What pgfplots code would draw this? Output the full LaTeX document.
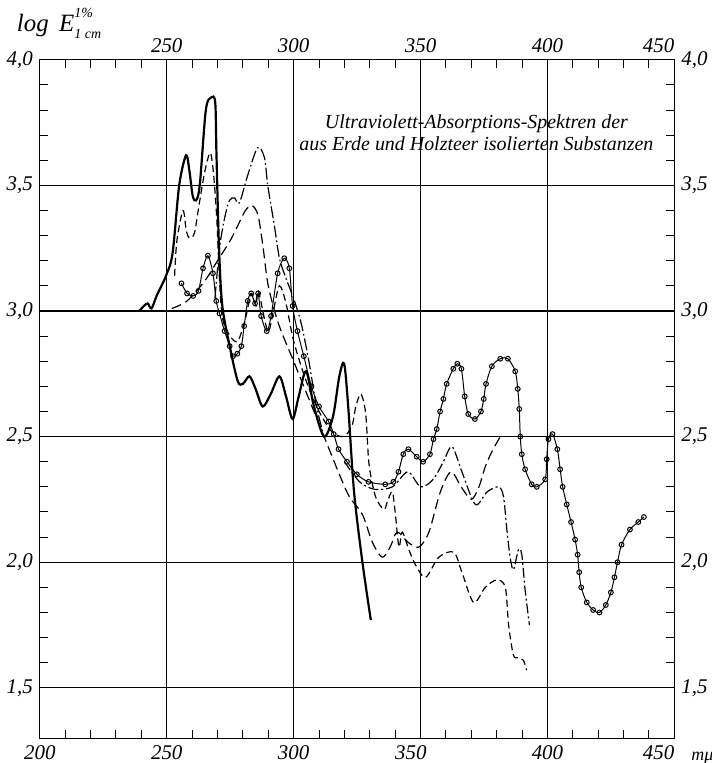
\documentclass[border=0pt]{standalone}
\usepackage{fontspec}
\setmainfont{Liberation Serif}
\usepackage{pgfplots}
\pgfplotsset{compat=1.18}

\pgfplotsset{
  common/.style={
    scale only axis, width=318.5pt, height=340.5pt,
    xmin=200, xmax=450, ymin=1.3, ymax=4.0,
    tick align=inside,
    major tick length=5pt, minor tick length=4pt,
    tick style={black, line width=0.5pt},
    ticklabel style={font=\fontsize{10.5}{11}\selectfont\itshape},
    /pgf/number format/assume math mode=true,
    yticklabel style={/pgf/number format/.cd, fixed, fixed zerofill, precision=1, use comma},
    axis line style={line width=0.6pt},
  },
}

\begin{document}
\begin{tikzpicture}
\begin{axis}[common, name=main,
  xtick={200,250,...,450}, ytick={1.5,2.0,...,4.0},
  xticklabels={200,250,300,\llap{350\hspace{-3pt}},400,\llap{450}},
  minor x tick num=4, minor y tick num=4,
  grid=major, major grid style={black, line width=0.6pt},
]
% A: heavy solid
\addplot[black, line width=1.1pt, smooth, tension=0.5] coordinates {
 (239.2,3.00) (241,3.02) (242.5,3.03) (244,3.01) (246,3.06) (249.7,3.14) (252.3,3.23)
 (254.9,3.50) (257.6,3.62) (258.9,3.56) (260.2,3.46) (261.5,3.44) (263,3.50)
 (265.4,3.80) (267.5,3.85) (269.1,3.83) (269.6,3.62) (270.6,3.25) (271.9,3.02)
 (275,2.85) (278,2.72) (280,2.71) (282.6,2.74) (285,2.69) (287.8,2.62) (291,2.67)
 (294.4,2.74) (297,2.66) (299.6,2.57) (302,2.66) (304.9,2.76) (308,2.62)
 (312,2.50) (315.5,2.58) (318,2.74) (319.9,2.79) (321.5,2.62) (323.8,2.28)
 (327.1,2.00) (330.4,1.77)
};
% B: dashed, from 253 down to 392
\addplot[black, line width=0.6pt, smooth, tension=0.5, dash pattern=on 3.5pt off 2pt] coordinates {
 (253.1,3.14) (254,3.28) (256.4,3.40) (257.7,3.32) (259,3.29) (260.9,3.31)
 (262.7,3.42) (264.9,3.55) (267.1,3.63) (268.4,3.55) (269.7,3.37) (270.8,3.12)
 (272,2.97) (275,2.90) (278,2.88) (281,2.97) (283.3,3.07) (285.2,3.02) (286.1,3.08)
 (289.8,2.92) (292,3.00) (294.4,3.10) (297,3.03) (300,2.88) (305,2.72) (310,2.60)
 (315,2.52) (319,2.50) (321,2.51)
 (323.2,2.55) (324.5,2.62) (326.5,2.67) (328.4,2.59) (329.7,2.39)
 (332.3,2.26) (335.6,2.21) (336.9,2.24) (338.9,2.28) (340.2,2.18) (341.5,2.06)
 (342.8,2.12) (345.4,2.05) (348,1.99) (352,1.94) (357.2,2.02) (363.1,2.04)
 (366.3,1.96) (370.9,1.84) (375.5,1.90) (380.1,1.93) (383.4,1.90) (384.7,1.75)
 (386.6,1.63) (388.5,1.62) (390.5,1.61) (391.8,1.57)
};
% C: dash-dot, peak 3.65
\addplot[black, line width=0.6pt, smooth, tension=0.5, dash pattern=on 6pt off 1.5pt on 0.8pt off 1.5pt] coordinates {
 (269,3.05) (270.8,3.25) (272.8,3.37) (274.7,3.44) (276.7,3.45) (278.6,3.43)
 (281.9,3.54) (285.8,3.65) (288.5,3.61) (289.8,3.50) (292.4,3.34) (294.4,3.21)
 (297,3.13) (300,3.05) (303,2.95) (306,2.80) (309,2.62) (312,2.50)
};
% D: long dashes
\addplot[black, line width=0.6pt, smooth, tension=0.5, dash pattern=on 5pt off 2.5pt] coordinates {
 (252,3.01) (258,3.04) (265,3.12) (270,3.20) (275,3.28) (278,3.34) (281,3.40)
 (283.6,3.42) (286,3.38) (288,3.25) (290,3.10) (294,2.95) (300,2.80) (306,2.65)
 (312,2.50) (318,2.35) (322,2.26) (327.1,2.19) (331,2.08) (334.9,2.02)
 (338,2.06) (340.8,2.12) (345,2.08) (349.3,2.06) (353.3,2.12) (357.8,2.28)
 (362,2.36) (366,2.30) (370,2.25) (373,2.30) (375.5,2.38) (378.1,2.44) (381.4,2.50)
};
% E: circles
\addplot[black, line width=0.5pt, smooth, tension=0.5, mark=o, mark size=1.2pt] coordinates {
 (255.8,3.11) (258,3.07) (260.4,3.06) (262.5,3.08) (264.3,3.17) (266.2,3.22)
 (268.2,3.15) (269.5,3.04) (270.8,2.99) (272.8,2.92) (274.8,2.86) (276.1,2.82)
 (277.8,2.83) (279.4,2.86) (280.5,2.94) (281.9,3.04) (283.3,3.07) (284.8,3.03)
 (286,3.07) (287.2,2.98) (289.4,2.92) (291.1,2.98) (293.7,3.15) (296.3,3.21)
 (298.3,3.17) (299.6,3.02) (301.5,2.92) (304,2.82) (307,2.70) (310,2.62)
 (313.8,2.56) (315.8,2.51) (317.7,2.45) (321,2.40) (324.9,2.35) (329.5,2.32)
 (336.1,2.31) (339.3,2.32) (341.3,2.36) (343.2,2.43) (345.2,2.45) (348.5,2.42)
 (351,2.40) (353.7,2.43) (355.1,2.49) (356.4,2.53) (357.7,2.60) (359,2.65)
 (360.3,2.71) (362.9,2.77) (364.5,2.79) (366.1,2.77) (367.4,2.66) (368.8,2.59)
 (371.4,2.57) (373.8,2.60) (374.9,2.65) (375.8,2.71) (378.1,2.78) (381.4,2.81)
 (384.4,2.81) (387.3,2.76) (388.3,2.69) (388.9,2.61) (389.3,2.50) (389.9,2.43)
 (391.2,2.37) (393.8,2.31) (395.8,2.30) (399.1,2.33) (399.7,2.41) (400.4,2.49)
 (402,2.51) (403.9,2.45) (405,2.37) (406,2.30) (407.6,2.23) (409.3,2.16)
 (410.9,2.09) (411.9,2.03) (412.5,1.96) (413.3,1.90) (415.5,1.84) (418,1.81)
 (420.5,1.80) (423,1.83) (425,1.88) (426.4,1.94) (427.6,2.00) (429.2,2.07)
 (432.5,2.13) (435.8,2.16) (438,2.18)
};
% G: dash-dot lower right
\addplot[black, line width=0.6pt, smooth, tension=0.5, dash pattern=on 5pt off 1.5pt on 1pt off 1.5pt] coordinates {
 (320,2.40) (326,2.32) (332,2.29) (338.9,2.30) (345,2.36) (350,2.30) (355,2.33)
 (359,2.40) (362.4,2.46) (366.3,2.36) (371.6,2.23) (376.2,2.28) (380.8,2.30)
 (382.7,2.26) (384,2.13) (385.3,2.02) (386.6,1.97) (388.6,2.05) (389.9,2.03)
 (391.2,1.89) (392.9,1.75)
};
\node[align=center, font=\fontsize{10}{11}\selectfont\itshape] at (axis cs:372,3.71)
 {Ultraviolett-Absorptions-Spektren der\\aus Erde und Holzteer isolierten Substanzen};
\end{axis}
\begin{axis}[common,
  xtick={250,300,...,450}, ytick={1.5,2.0,...,4.0},
  xticklabels={250,300,350,400,\llap{450}},
  xticklabel pos=right, yticklabel pos=right,
  major tick length=0pt, minor tick length=0pt,
  axis line style={draw=none},
]
\end{axis}
\node[anchor=base west, font=\fontsize{12.5}{13}\selectfont\itshape] at ([xshift=-15pt,yshift=14pt]main.north west)
 {log\, E\rlap{\raisebox{1.25ex}{\fontsize{7}{8}\selectfont 1\%}}\raisebox{-0.55ex}{\fontsize{7}{8}\selectfont 1 cm}};
\node[anchor=base west, font=\fontsize{9}{10}\selectfont\itshape] at ([xshift=5pt,yshift=-11pt]main.south east) {mμ};
\pgfresetboundingbox
\path ([xshift=-20pt,yshift=-12.5pt]main.south west) rectangle ([xshift=18.5pt,yshift=30pt]main.north east);
\end{tikzpicture}
\end{document}
